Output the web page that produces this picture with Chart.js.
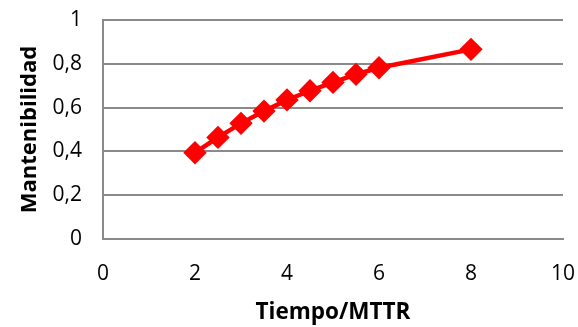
<!DOCTYPE html>
<html><head><meta charset="utf-8">
<script src="https://cdn.jsdelivr.net/npm/chart.js@4/dist/chart.umd.min.js"></script>
<style>html,body{margin:0;padding:0;background:#fff}#wrap{width:578px;height:327px}</style>
</head><body><div id="wrap"><canvas id="c" width="578" height="327"></canvas></div>
<script>
const tiempoMTTR = [2, 2.5, 3, 3.5, 4, 4.5, 5, 5.5, 6, 8];
const mantenibilidad = [0.394, 0.464, 0.528, 0.584, 0.635, 0.677, 0.715, 0.752, 0.782, 0.866];
const xTicks = [0, 2, 4, 6, 8, 10];
const yTicks = [0, 0.2, 0.4, 0.6, 0.8, 1];
const xTitle = 'Tiempo/MTTR';
const yTitle = 'Mantenibilidad';

const points = tiempoMTTR.map((x, i) => ({x, y: mantenibilidad[i]}));
const FONT = '"Open Sans", sans-serif';
const grey = '#8a8a8a';

new Chart(document.getElementById('c'), {
  type: 'scatter',
  data: { datasets: [{
    data: points, showLine: true, borderColor: '#ff0000', backgroundColor: '#ff0000',
    borderWidth: 4.5, pointStyle: 'rectRot', pointRadius: 8.5, pointHoverRadius: 8.5, tension: 0
  }]},
  options: {
    responsive: false, animation: false, devicePixelRatio: 1,
    layout: { padding: { top: 20, right: 15, left: 0, bottom: 0 } },
    plugins: { legend: { display: false }, tooltip: { enabled: false } },
    scales: {
      x: {
        type: 'linear', min: 0, max: 10,
        afterBuildTicks: s => { s.ticks = xTicks.map(v => ({value: v})); },
        afterFit: s => { s.height = 88; s.paddingLeft = 0; s.paddingRight = 0; },
        grid: { display: false, drawTicks: false },
        border: { display: true, color: grey, width: 2 },
        ticks: { color: '#000', font: { family: FONT, size: 21 }, padding: 22, maxRotation: 0 },
        title: { display: true, text: xTitle, color: '#000', font: { family: FONT, size: 22.5, weight: 'bold' }, padding: { top: 0, bottom: 1 } }
      },
      y: {
        type: 'linear', min: 0, max: 1,
        afterBuildTicks: s => { s.ticks = yTicks.map(v => ({value: v})); },
        afterFit: s => { s.width = 103; s.paddingTop = 0; s.paddingBottom = 0; },
        grid: { color: grey, lineWidth: 2, drawTicks: false },
        border: { display: true, color: grey, width: 2 },
        ticks: { color: '#000', font: { family: FONT, size: 21 }, padding: 21,
          callback: v => String(v).replace('.', ',') },
        title: { display: true, text: yTitle, color: '#000', font: { family: FONT, size: 22, weight: 'bold' }, padding: { top: 17, bottom: 0 } }
      }
    }
  }
});
</script></body></html>
